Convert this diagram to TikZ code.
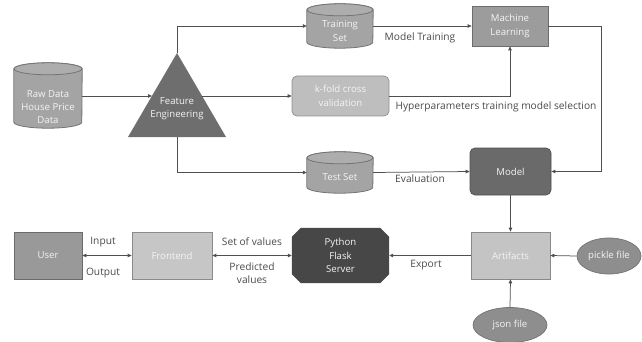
\documentclass[tikz,border=0pt]{standalone}
\usepackage{fontspec}
\setmainfont{Open Sans}
\usetikzlibrary{arrows.meta,shapes.geometric,shapes.misc}
\definecolor{linec}{HTML}{505050}
\definecolor{lblc}{HTML}{4A4A4A}
\definecolor{cylc}{HTML}{A4A4A4}
\definecolor{cyltop}{HTML}{ADADAD}
\definecolor{cyld}{HTML}{747474}
\definecolor{tric}{HTML}{6E6E6E}
\definecolor{kfc}{HTML}{BEBEBE}
\definecolor{mlc}{HTML}{9C9C9C}
\definecolor{modc}{HTML}{6A6A6A}
\definecolor{artc}{HTML}{C4C4C4}
\definecolor{ellc}{HTML}{8E8E8E}
\definecolor{pyc}{HTML}{474747}
\definecolor{frc}{HTML}{C6C6C6}
\definecolor{userc}{HTML}{999999}
\definecolor{txtc}{HTML}{F4F4F4}
% #1 node name, #2 half width, #3 ellipse y radius
\newcommand\mycyl[3]{%
  \filldraw[fill=cylc, draw=cyld, line width=0.8pt]
    ([yshift=-#3]#1.north west) -- ([yshift=#3]#1.south west)
    arc[start angle=180, end angle=360, x radius=#2, y radius=#3]
    -- ([yshift=-#3]#1.north east)
    arc[start angle=0, end angle=180, x radius=#2, y radius=#3] -- cycle;
  \filldraw[fill=cyltop, draw=cyld, line width=0.8pt]
    ([yshift=-#3]#1.north) ellipse[x radius=#2, y radius=#3];
}
\begin{document}
\begin{tikzpicture}[x=1pt,y=-1pt,
  every node/.style={font=\fontsize{9.6}{13.3}\selectfont, inner sep=0pt},
  boxtext/.style={text=txtc, align=center},
  cylbox/.style={rectangle, draw=none},
  sqbox/.style={boxtext, rectangle, draw=#1!70!black, fill=#1, line width=0.7pt},
  rbox/.style={boxtext, rectangle, rounded corners=5pt, draw=#1!75!black, fill=#1, line width=0.7pt},
  ell/.style={boxtext, ellipse, fill=ellc, draw=ellc!80!black, line width=0.7pt},
  lbl/.style={text=lblc, align=center, font=\fontsize{10.2}{13}\selectfont},
  conn/.style={draw=linec, line width=0.75pt, -{Triangle[length=4pt,width=3.5pt]}},
  dconn/.style={draw=linec, line width=0.75pt, {Triangle[length=4pt,width=3.5pt]}-{Triangle[length=4pt,width=3.5pt]}}
]
\useasboundingbox (0,0) rectangle (642,342);

% Raw data
\node[cylbox, minimum width=68pt, minimum height=65pt] (raw) at (48,95.5) {};
\mycyl{raw}{34pt}{6pt}
\node[boxtext] (rawt) at (48,107) {Raw Data\\House Price\\Data};

% Feature engineering triangle
\fill[tric] (177,53) -- (226,137) -- (128,137) -- cycle;
\coordinate (feapex) at (177,53);
\coordinate (febase) at (177,137);
\coordinate (feL) at (152,96);
\coordinate (feR) at (202,96);
\node[boxtext] (fe) at (177,109) {Feature\\Engineering};

% Training set, k-fold, test set
\node[cylbox, minimum width=66pt, minimum height=44pt] (train) at (340,26) {};
\mycyl{train}{33pt}{6pt}
\node[boxtext] (traint) at (340,31) {Training\\Set};
\node[rbox=kfc, minimum width=97pt, minimum height=40pt] (kfold) at (340.5,96) {k-fold cross\\validation};
\node[cylbox, minimum width=66pt, minimum height=41pt] (test) at (340,172.5) {};
\mycyl{test}{33pt}{6pt}
\node[boxtext] (testt) at (340,177) {Test Set};

% ML and Model
\node[sqbox=mlc, minimum width=76pt, minimum height=40pt] (ml) at (510,26) {Machine\\Learning};
\node[rbox=modc, minimum width=81pt, minimum height=47pt] (model) at (510.5,171.5) {Model};

% Artifacts, pickle, json
\node[sqbox=artc, minimum width=79pt, minimum height=47pt] (art) at (510.5,255.5) {Artifacts};
\node[ell, minimum width=64pt, minimum height=36pt] (pickle) at (609,256) {pickle file};
\node[ell, minimum width=74pt, minimum height=35pt] (json) at (510,325) {json file};

% Python Flask Server
\node[boxtext, minimum width=97pt, minimum height=55pt] (py) at (340.5,255.5) {};
\fill[pyc] ([xshift=9pt]py.north west) -- ([xshift=-9pt]py.north east) -- ([yshift=-9pt]py.north east)
  -- ([yshift=9pt]py.south east) -- ([xshift=-9pt]py.south east) -- ([xshift=9pt]py.south west)
  -- ([yshift=9pt]py.south west) -- ([yshift=-9pt]py.north west) -- cycle;
\node[boxtext] (pytext) at (py) {Python\\Flask\\Server};

% Frontend, User
\node[sqbox=frc, minimum width=80pt, minimum height=47pt] (front) at (172,255.5) {Frontend};
\node[sqbox=userc, minimum width=68pt, minimum height=47pt] (user) at (48,255.5) {User};

% connectors
\draw[conn] (raw.east |- feL) -- (feL);
\draw[conn] (feapex) |- (train.west);
\draw[conn] (feR) -- (kfold.west);
\draw[conn] (febase) |- (test.west);
\draw[conn] (train.east) -- (ml.west);
\draw[conn] (kfold.east) -| (ml.south);
\draw[conn] (ml.east) -- ++(53,0) |- (model.east);
\draw[conn] (test.east) -- (model.west);
\draw[conn] (model.south) -- (art.north);
\draw[conn] (pickle.west) -- (art.east);
\draw[conn] (json.north) -- (art.south);
\draw[conn] (art.west) -- (py.east);
\draw[dconn] (front.west) -- (user.east);
\draw[dconn] (py.west) -- (front.east);

% labels
\node[lbl] (l1) at (420,38) {Model Training};
\node[lbl] (l2) at (496,107) {Hyperparameters training model selection};
\node[lbl] (l3) at (420,179) {Evaluation};
\node[lbl] (l4) at (426,265) {Export};
\node[lbl] (l5) at (103,242) {Input};
\node[lbl] (l6) at (103,273) {Output};
\node[lbl] (l7) at (252,242) {Set of values};
\node[lbl] (l8) at (252,273.5) {Predicted\\values};
\end{tikzpicture}
\end{document}
